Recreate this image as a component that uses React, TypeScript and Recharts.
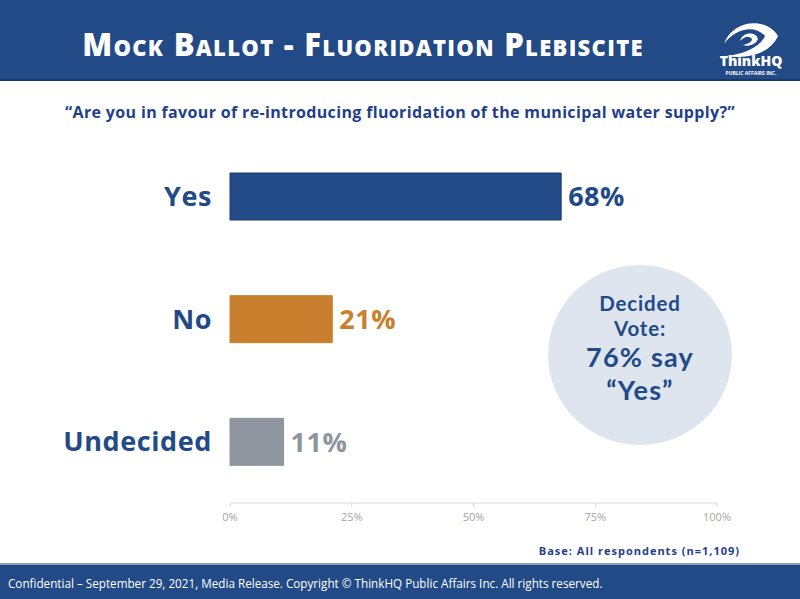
import { BarChart, Bar, XAxis, YAxis, Cell, LabelList } from 'recharts'

const categories = ['Yes', 'No', 'Undecided']
const shares = [68, 21, 11]
const barColors = ['#214a87', '#c8802e', '#8e959e']
const labelColors = ['#1f4a87', '#c8802e', '#8e959e']
const xTicks = [0, 25, 50, 75, 100]

const data = categories.map((name, i) => ({ name, value: shares[i] }))

const NAVY = '#214a87'
const FONT = '"Open Sans", "Noto Sans", sans-serif'
const BUBBLE_FONT = 'Lato, "Open Sans", sans-serif'

const ValueLabel = (props: any) => {
  const { x, y, width, height, value, index } = props
  return (
    <text
      x={x + width + 7}
      y={y + height / 2}
      dy="0.36em"
      fill={labelColors[index]}
      fontSize={27}
      fontWeight={700}
      fontFamily={FONT}
      letterSpacing={0.5}
    >
      {value}%
    </text>
  )
}

const CategoryTick = (props: any) => {
  const { x, y, payload } = props
  return (
    <text
      x={x}
      y={y}
      dy="0.36em"
      textAnchor="end"
      fill={NAVY}
      fontSize={27}
      fontWeight={700}
      fontFamily={FONT}
      letterSpacing={0.6}
    >
      {payload.value}
    </text>
  )
}

function Logo() {
  return (
    <svg width={74} height={64} viewBox="0 0 74 64" style={{ position: 'absolute', left: 714, top: 14 }}>
      <path d="M10 30 C18 6 52 2 64 22 C57 38 36 46 12 42 C30 40 46 33 51 22 C42 11 22 13 10 30 Z" fill="#fff" />
      <path d="M26 27 C28 18 42 17 44 25 C42 31 33 33 29 31 C34 30 38 28 38 25 C35 21 30 23 26 27 Z" fill="#fff" />
      <text x={37} y={52} textAnchor="middle" fill="#fff" fontSize={14} fontWeight={800} fontFamily={FONT}>
        ThinkHQ
      </text>
      <text x={37} y={61} textAnchor="middle" fill="#fff" fontSize={5} fontWeight={700} fontFamily={FONT}>
        PUBLIC AFFAIRS INC.
      </text>
    </svg>
  )
}

export default function App() {
  const bubbleLine = (top: number, size: number, spacing: number) => ({
    position: 'absolute' as const,
    left: 0,
    width: 184,
    top,
    fontSize: size,
    lineHeight: `${size * 1.2}px`,
    letterSpacing: spacing,
    whiteSpace: 'nowrap' as const,
  })
  return (
    <div style={{ position: 'fixed', left: 0, top: 0, width: 800, height: 599, background: '#fff', overflow: 'hidden', fontFamily: FONT }}>
      <div style={{ position: 'absolute', left: 0, top: 0, width: 800, height: 79, background: NAVY, borderBottom: '2px solid #183a6e' }} />
      <div
        style={{
          position: 'absolute',
          left: 0,
          width: 726,
          top: 24,
          textAlign: 'center',
          color: '#fff',
          fontSize: 31,
          fontWeight: 800,
          fontVariant: 'small-caps',
          letterSpacing: 1.3,
          lineHeight: '40px',
        }}
      >
        Mock Ballot - Fluoridation Plebiscite
      </div>
      <Logo />
      <div
        style={{
          position: 'absolute',
          left: 0,
          width: 800,
          top: 101,
          textAlign: 'center',
          color: '#1f3f8a',
          fontSize: 16,
          fontWeight: 700,
          letterSpacing: 0.35,
          lineHeight: '22px',
        }}
      >
        “Are you in favour of re-introducing fluoridation of the municipal water supply?”
      </div>

      <div style={{ position: 'absolute', left: 0, top: 100 }}>
        <BarChart
          width={800}
          height={440}
          data={data}
          layout="vertical"
          margin={{ top: 35, right: 83, bottom: 12, left: 0 }}
          barSize={47}
        >
          <XAxis
            type="number"
            domain={[0, 100]}
            ticks={xTicks}
            tickFormatter={(v) => `${v}%`}
            stroke="#d9d9d9"
            tick={{ fill: '#a6a6a6', fontSize: 11, fontFamily: FONT }}
            tickSize={4}
            tickMargin={6}
            height={25}
          />
          <YAxis
            type="category"
            dataKey="name"
            width={230}
            axisLine={false}
            tickLine={false}
            tickSize={0}
            tickMargin={18}
            tick={<CategoryTick />}
          />
          <Bar dataKey="value" isAnimationActive={false}>
            {data.map((d, i) => (
              <Cell key={d.name} fill={barColors[i]} stroke={i === 0 ? '#1a3d73' : barColors[i]} />
            ))}
            <LabelList dataKey="value" content={<ValueLabel />} />
          </Bar>
        </BarChart>
      </div>

      <div
        style={{
          position: 'absolute',
          left: 548,
          top: 265,
          width: 184,
          height: 180,
          borderRadius: '50%',
          background: '#dfe5ef',
          color: NAVY,
          fontWeight: 700,
          textAlign: 'center',
          fontFamily: BUBBLE_FONT,
        }}
      >
        <div style={bubbleLine(25.7, 20.5, 0.8)}>Decided</div>
        <div style={bubbleLine(50.7, 20.5, 0.8)}>Vote:</div>
        <div style={bubbleLine(75.8, 27, 1.2)}>76% say</div>
        <div style={bubbleLine(108.8, 27, 1.2)}>“Yes”</div>
      </div>

      <div
        style={{
          position: 'absolute',
          right: 60,
          top: 543,
          color: '#1f3f8a',
          fontSize: 11,
          fontWeight: 700,
          letterSpacing: 1.0,
          lineHeight: '16px',
        }}
      >
        Base: All respondents (n=1,109)
      </div>

      <div style={{ position: 'absolute', left: 0, top: 563, width: 800, height: 36, background: NAVY, borderTop: '2px solid #8fa0bd' }} />
      <div style={{ position: 'absolute', left: 8, top: 574, color: '#fff', fontSize: 11.7, lineHeight: '18px' }}>
        Confidential – September 29, 2021, Media Release. Copyright © ThinkHQ Public Affairs Inc. All rights reserved.
      </div>
    </div>
  )
}
